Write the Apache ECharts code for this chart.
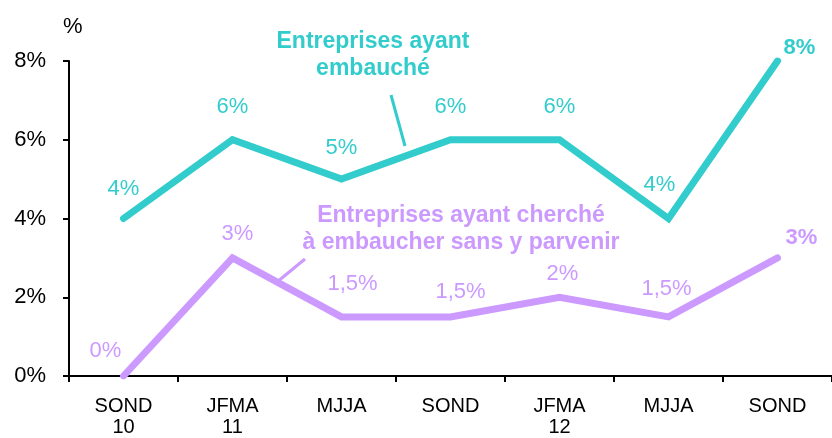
<!DOCTYPE html>
<html><head><meta charset="utf-8">
<script src="https://cdn.jsdelivr.net/npm/echarts@6/dist/echarts.min.js"></script>
<style>html,body{margin:0;padding:0;background:#fff}#c{width:832px;height:438px}</style>
</head><body><div id="c"></div>
<script>
const categories = ['SOND\n10','JFMA\n11','MJJA','SOND','JFMA\n12','MJJA','SOND'];
const hired = [4, 6, 5, 6, 6, 4, 8];
const failed = [0, 3, 1.5, 1.5, 2, 1.5, 3];
const yTicks = [0, 2, 4, 6, 8];

const TEAL = '#33CCCC', PURPLE = '#CC99FF';
const FONT = "'Liberation Sans', Arial, sans-serif";
const hiredOff = [[0,-30],[0,-33],[0,-31],[0,-33],[0,-33],[-9,-34],[22,-13]];
const failedOff = [[-18,-25],[5,-24],[11,-33],[10,-25],[3,-23],[-2,-28],[24,-20]];
const fmt = v => String(v).replace('.', ',') + '%';

function build(vals, offs, color){
  return vals.map((v,i)=>({
    value: v,
    label: {
      show: true, position: 'inside', offset: offs[i],
      formatter: fmt(v), color: color, fontSize: 22, fontFamily: FONT,
      fontWeight: i === vals.length-1 ? 'bold' : 'normal'
    }
  }));
}

const chart = echarts.init(document.getElementById('c'));
chart.setOption({
  animation: false,
  grid: {left: 69, top: 61, width: 765, height: 319, containLabel: false},
  xAxis: {
    type: 'category', data: categories, boundaryGap: true,
    axisLine: {lineStyle: {color: '#000', width: 2}},
    axisTick: {show: true, length: 6, lineStyle: {color: '#000', width: 2}},
    axisLabel: {color: '#000', fontSize: 20, fontFamily: FONT, lineHeight: 21, margin: 20, interval: 0}
  },
  yAxis: {
    type: 'value', min: yTicks[0], max: yTicks[yTicks.length-1], interval: 2,
    splitLine: {show: false},
    axisLine: {show: true, lineStyle: {color: '#000', width: 2}},
    axisTick: {show: true, length: 6, lineStyle: {color: '#000', width: 2}},
    axisLabel: {color: '#000', fontSize: 22, fontFamily: FONT, margin: 23, formatter: '{value}%'}
  },
  series: [
    {type: 'line', data: build(hired, hiredOff, TEAL), symbol: 'circle', symbolSize: 1,
     itemStyle: {color: TEAL}, lineStyle: {color: TEAL, width: 7, cap: 'round', join: 'miter'}, z: 3},
    {type: 'line', data: build(failed, failedOff, PURPLE), symbol: 'circle', symbolSize: 1,
     itemStyle: {color: PURPLE}, lineStyle: {color: PURPLE, width: 7, cap: 'round', join: 'miter'}, z: 2}
  ],
  graphic: [
    {type: 'text', left: 63, top: 16, style: {text: '%', fill: '#000', font: '22px ' + FONT}},
    {type: 'text', x: 373, y: 55, style: {text: 'Entreprises ayant\nembauché', fill: TEAL,
      font: 'bold 23px ' + FONT, align: 'center', verticalAlign: 'middle', lineHeight: 27}},
    {type: 'line', shape: {x1: 391, y1: 95, x2: 405, y2: 146}, style: {stroke: TEAL, lineWidth: 3}},
    {type: 'text', x: 461, y: 229, style: {text: 'Entreprises ayant cherché\nà embaucher sans y parvenir', fill: PURPLE,
      font: 'bold 23px ' + FONT, align: 'center', verticalAlign: 'middle', lineHeight: 27}},
    {type: 'line', shape: {x1: 305, y1: 259, x2: 277, y2: 282}, style: {stroke: PURPLE, lineWidth: 3}}
  ]
});
</script></body></html>
